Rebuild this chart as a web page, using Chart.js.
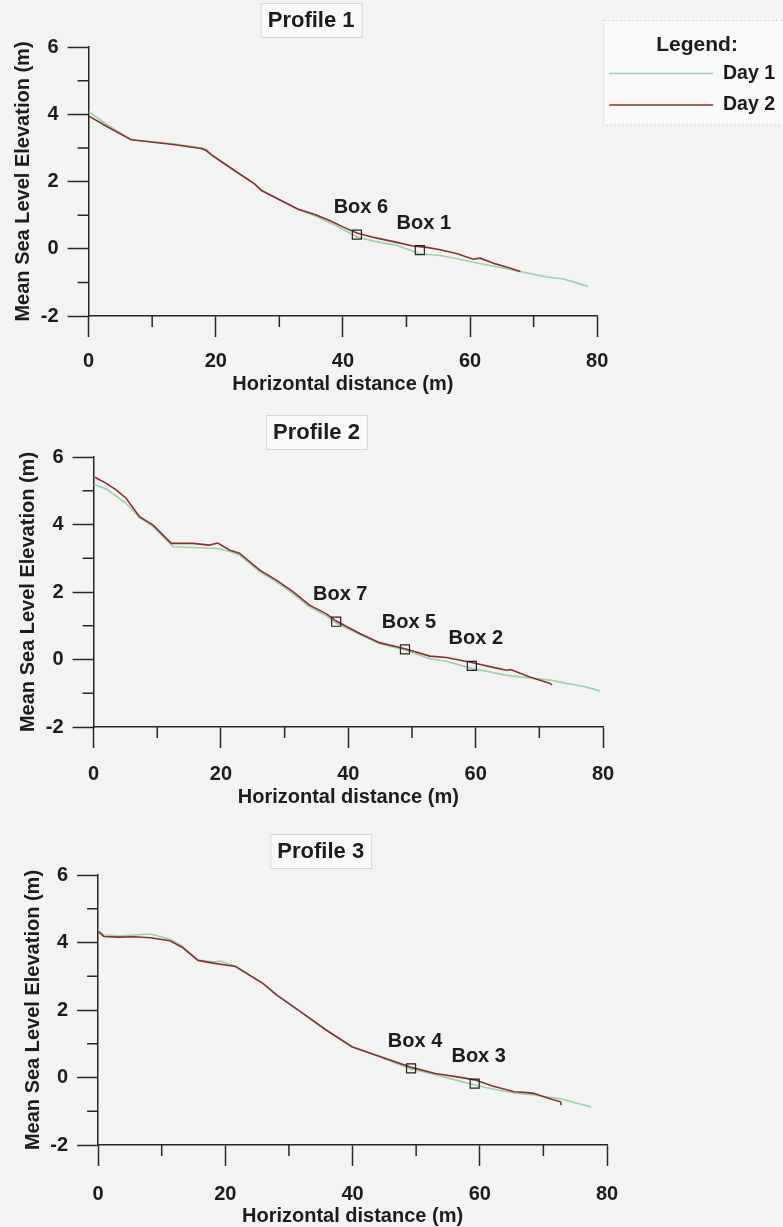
<!DOCTYPE html>
<html>
<head>
<meta charset="utf-8">
<script src="https://cdn.jsdelivr.net/npm/chart.js@4.4.1/dist/chart.umd.min.js"></script>
<style>
  html, body { margin: 0; padding: 0; background: #f3f3f3; }
  body { width: 783px; height: 1227px; position: relative; overflow: hidden; }
  canvas { position: absolute; left: 0; }
</style>
</head>
<body>
<canvas id="c1" width="783" height="400" style="top:0px"></canvas>
<canvas id="c2" width="783" height="411" style="top:400px"></canvas>
<canvas id="c3" width="783" height="416" style="top:811px"></canvas>
<script>
// ---------------- DATA ----------------
const profileTitles = ['Profile 1', 'Profile 2', 'Profile 3'];
const seriesNames = ['Day 1', 'Day 2'];
const legendTitle = 'Legend:';
const xAxisTitle = 'Horizontal distance (m)';
const yAxisTitle = 'Mean Sea Level Elevation (m)';
const xTicks = [0, 20, 40, 60, 80];
const yTicks = [-2, 0, 2, 4, 6];
const xMinorTicks = [10, 30, 50, 70];
const yMinorTicks = [-1, 1, 3, 5];

// Profile 1  [distance m, elevation m]
const p1Day1 = [[0,4.08],[3,3.68],[6.7,3.24],[13.3,3.12],[17.7,3.0],[18.5,2.96],[19.3,2.78],[23,2.32],[26.1,1.93],[27.2,1.74],[29.8,1.48],[32.9,1.17],[35.6,0.98],[39.2,0.66],[42.2,0.35],[45,0.22],[48.5,0.1],[52.1,-0.15],[55.3,-0.2],[58,-0.3],[60.5,-0.4],[63.7,-0.52],[66,-0.6],[67.9,-0.68],[70,-0.76],[72.1,-0.84],[74.7,-0.9],[76.5,-1.0],[78.6,-1.12]];
const p1Day2 = [[0,3.95],[3,3.62],[6.7,3.24],[13.3,3.1],[17.7,2.98],[18.5,2.92],[19.3,2.8],[23,2.32],[26.1,1.93],[27.2,1.73],[29.8,1.48],[32.9,1.18],[35.6,1.02],[38,0.83],[40,0.65],[42.2,0.47],[45,0.33],[48.5,0.19],[51,0.08],[53.2,0.04],[55.3,-0.03],[58,-0.15],[60.5,-0.31],[61.6,-0.28],[64,-0.45],[66,-0.56],[67.9,-0.68]];
const p1Boxes = [[42.2,0.42],[52.1,-0.04]];
const p1BoxNames = ['Box 6', 'Box 1'];

// Profile 2
const p2Day1 = [[0,5.19],[2,5.05],[5.1,4.63],[7.2,4.2],[9.3,3.95],[12.5,3.34],[15.6,3.32],[19.5,3.29],[21.4,3.2],[22.9,3.1],[26.1,2.6],[28.7,2.3],[31.3,1.95],[33.9,1.56],[36.5,1.3],[38.1,1.08],[41.8,0.74],[44.9,0.47],[48.9,0.28],[52.8,0.02],[55.4,-0.05],[59.4,-0.27],[62,-0.36],[64.9,-0.47],[68.5,-0.55],[71.7,-0.61],[74,-0.7],[77,-0.8],[79.5,-0.93]];
const p2Day2 = [[0.2,5.4],[2,5.22],[3.6,5.02],[5.1,4.78],[7.2,4.23],[9.3,3.99],[12.2,3.44],[15.6,3.44],[18.2,3.39],[19.5,3.45],[21.4,3.24],[22.9,3.15],[26.1,2.65],[28.7,2.35],[31.3,2.01],[33.9,1.61],[36.5,1.36],[38.1,1.14],[41.8,0.77],[44.9,0.5],[48.9,0.32],[52.8,0.1],[55.4,0.06],[59.4,-0.09],[62.9,-0.24],[64.9,-0.32],[65.5,-0.3],[68.5,-0.52],[71.7,-0.71],[72,-0.75]];
const p2Boxes = [[38.1,1.12],[48.9,0.30],[59.4,-0.19]];
const p2BoxNames = ['Box 7', 'Box 5', 'Box 2'];

// Profile 3
const p3Day1 = [[0,4.37],[0.9,4.22],[3.2,4.19],[5.7,4.22],[8.2,4.25],[11.3,4.1],[13.2,3.9],[15.7,3.48],[18.1,3.42],[19.3,3.45],[21.6,3.3],[25.9,2.79],[28.1,2.44],[31.8,1.95],[35.9,1.4],[39.9,0.91],[44.3,0.61],[49.2,0.25],[53,0.08],[56.7,-0.1],[59.2,-0.22],[62,-0.34],[65.4,-0.46],[68.5,-0.52],[72.7,-0.63],[75,-0.75],[77.5,-0.87]];
const p3Day2 = [[0,4.33],[0.9,4.18],[3.2,4.16],[5.7,4.17],[8.2,4.14],[11.3,4.05],[13.2,3.86],[15.7,3.47],[18.1,3.39],[21.6,3.29],[25.9,2.79],[28.1,2.44],[31.8,1.95],[35.9,1.4],[39.9,0.91],[44.3,0.62],[49.2,0.3],[53,0.12],[56.7,0.01],[59.2,-0.07],[62,-0.25],[65.4,-0.42],[67,-0.44],[68.5,-0.47],[70.5,-0.6],[72.7,-0.72],[72.8,-0.82]];
const p3Boxes = [[49.2,0.27],[59.2,-0.18]];
const p3BoxNames = ['Box 4', 'Box 3'];

// ---------------- STYLE ----------------
const FONT = '"Liberation Sans", Arial, Helvetica, sans-serif';
const TEXT = '#1c1c1c';
const AXIS = '#262626';
const GREEN = '#97d4aa';
const RED = '#8c2f2f';
const MAJOR_LEN = 21;
const MINOR_LEN = 11;

const toPoints = arr => arr.map(([x, y]) => ({ x, y }));

const minorTicksPlugin = {
  id: 'minorTicks',
  afterDraw(chart) {
    const { ctx, chartArea } = chart;
    const { x, y } = chart.scales;
    ctx.save();
    ctx.strokeStyle = AXIS;
    ctx.lineWidth = 1.5;
    ctx.beginPath();
    xMinorTicks.forEach(v => {
      const px = x.getPixelForValue(v);
      ctx.moveTo(px, chartArea.bottom);
      ctx.lineTo(px, chartArea.bottom + MINOR_LEN);
    });
    yMinorTicks.forEach(v => {
      const py = y.getPixelForValue(v);
      ctx.moveTo(chartArea.left, py);
      ctx.lineTo(chartArea.left - MINOR_LEN, py);
    });
    ctx.stroke();
    ctx.restore();
  }
};

const boxedTitlePlugin = {
  id: 'boxedTitle',
  beforeDraw(chart, args, opts) {
    if (!opts || !opts.text) return;
    const { ctx, chartArea } = chart;
    const cx = chart.scales.x.getPixelForValue(opts.atValue);
    const cy = chartArea.top + opts.offsetY;
    ctx.save();
    ctx.font = 'bold 22px ' + FONT;
    const w = ctx.measureText(opts.text).width;
    ctx.fillStyle = '#f9f9f9';
    ctx.fillRect(cx - w / 2 - 7, cy - 17, w + 14, 34);
    ctx.strokeStyle = '#d6d6d6';
    ctx.lineWidth = 1;
    ctx.strokeRect(cx - w / 2 - 7 + 0.5, cy - 17 + 0.5, w + 14, 34);
    ctx.fillStyle = TEXT;
    ctx.textAlign = 'center';
    ctx.textBaseline = 'middle';
    ctx.fillText(opts.text, cx, cy + 1);
    ctx.restore();
  }
};

// frame behind the legend, and the legend heading (drawn outside the legend's clip box)
const legendFramePlugin = {
  id: 'legendFrame',
  beforeDraw(chart) {
    const lg = chart.legend;
    if (!lg || !lg.options.display || !lg.legendHitBoxes || !lg.legendHitBoxes.length) return;
    const { ctx } = chart;
    const last = lg.legendHitBoxes[lg.legendHitBoxes.length - 1];
    const left = lg.left + 6;
    const top = lg.top - 27;
    const bottom = last.top + last.height + 10;
    ctx.save();
    ctx.fillStyle = '#f8f8f8';
    ctx.fillRect(left, top, chart.width - left + 10, bottom - top);
    ctx.strokeStyle = '#d2d2d2';
    ctx.lineWidth = 1;
    ctx.setLineDash([2, 2]);
    ctx.strokeRect(left + 0.5, top + 0.5, chart.width - left + 10, bottom - top);
    ctx.restore();
  },
  afterDraw(chart) {
    const lg = chart.legend;
    if (!lg || !lg.options.display) return;
    const { ctx } = chart;
    ctx.save();
    ctx.font = 'bold 21px ' + FONT;
    ctx.fillStyle = TEXT;
    ctx.textAlign = 'center';
    ctx.textBaseline = 'middle';
    ctx.fillText(lg.options.title.text, lg.left + lg.width / 2 + 6, lg.top - 2);
    ctx.restore();
  }
};

const boxLabelsPlugin = {
  id: 'boxLabels',
  afterDatasetsDraw(chart) {
    const { ctx } = chart;
    chart.data.datasets.forEach((ds, i) => {
      if (!ds.boxLabels) return;
      const meta = chart.getDatasetMeta(i);
      ctx.save();
      ctx.font = 'bold 20px ' + FONT;
      ctx.fillStyle = TEXT;
      ctx.textAlign = 'center';
      ctx.textBaseline = 'middle';
      meta.data.forEach((pt, j) => {
        ctx.fillText(ds.boxLabels[j], pt.x + 4, pt.y - 27);
      });
      ctx.restore();
    });
  }
};

function makeChart(id, cfg) {
  return new Chart(document.getElementById(id), {
    type: 'scatter',
    data: {
      datasets: [
        { label: seriesNames[0], data: toPoints(cfg.day1), showLine: true, borderColor: GREEN, borderWidth: 1.6,
          pointBorderColor: GREEN, pointBorderWidth: 1.6, pointRadius: 0, pointHoverRadius: 0, tension: 0, order: 2 },
        { label: seriesNames[1], data: toPoints(cfg.day2), showLine: true, borderColor: RED, borderWidth: 1.6,
          pointBorderColor: RED, pointBorderWidth: 1.6, pointRadius: 0, pointHoverRadius: 0, tension: 0, order: 1 },
        { label: 'Boxes', data: toPoints(cfg.boxes), boxLabels: cfg.boxNames, showLine: false,
          pointStyle: 'rect', pointRadius: 6.4, pointHoverRadius: 6.4, borderColor: '#222', backgroundColor: 'rgba(0,0,0,0)',
          borderWidth: 1.2, order: 0 }
      ]
    },
    options: {
      responsive: false,
      animation: false,
      events: [],
      layout: { padding: cfg.padding },
      plugins: {
        tooltip: { enabled: false },
        title: { display: false },
        boxedTitle: { text: cfg.title, atValue: 35, offsetY: cfg.titleOffset },
        legend: {
          display: cfg.legend,
          position: 'right',
          align: 'start',
          // reserves the heading's room; the heading itself is painted by legendFrame
          title: { display: true, text: legendTitle, color: 'rgba(0,0,0,0)', font: { family: FONT, size: 21, weight: 'bold' },
                   padding: { top: -12.5, bottom: -8 } },
          labels: {
            usePointStyle: true, pointStyle: 'line', pointStyleWidth: 104, boxHeight: 19,
            padding: 12, color: TEXT, font: { family: FONT, size: 19.5, weight: 'bold' },
            filter: item => item.datasetIndex < 2,
            sort: (a, b) => a.datasetIndex - b.datasetIndex
          }
        }
      },
      scales: {
        x: {
          type: 'linear', min: 0, max: 80,
          afterBuildTicks: s => { s.ticks = xTicks.map(v => ({ value: v })); },
          afterFit: s => { s.height = cfg.xHeight; },
          border: { display: true, color: AXIS, width: 1.5 },
          grid: { drawOnChartArea: false, drawTicks: true, tickLength: MAJOR_LEN, tickWidth: 1.5, tickColor: AXIS },
          ticks: { color: TEXT, font: { family: FONT, size: 20, weight: 'bold' }, padding: cfg.xTickPad, maxRotation: 0, autoSkip: false },
          title: { display: true, text: xAxisTitle, color: TEXT, font: { family: FONT, size: 20, weight: 'bold' },
                   padding: { top: 0, bottom: cfg.xTitlePad } }
        },
        y: {
          type: 'linear', min: -2, max: 6,
          afterBuildTicks: s => { s.ticks = yTicks.map(v => ({ value: v })); },
          afterFit: s => { s.width = 88.6; },
          border: { display: true, color: AXIS, width: 1.5 },
          grid: { drawOnChartArea: false, drawTicks: true, tickLength: MAJOR_LEN, tickWidth: 1.5, tickColor: AXIS },
          ticks: { color: TEXT, font: { family: FONT, size: 20, weight: 'bold' }, padding: 9, autoSkip: false },
          title: { display: true, text: yAxisTitle, color: TEXT, font: { family: FONT, size: 20, weight: 'bold' },
                   padding: { top: 11.6, bottom: 0 } }
        }
      }
    },
    plugins: [legendFramePlugin, boxedTitlePlugin, minorTicksPlugin, boxLabelsPlugin]
  });
}

makeChart('c1', { title: profileTitles[0], day1: p1Day1, day2: p1Day2, boxes: p1Boxes, boxNames: p1BoxNames,
  legend: true, padding: { top: 47, left: 0, right: -2, bottom: 0 }, xHeight: 84, titleOffset: -27, xTickPad: 12, xTitlePad: 4 });
makeChart('c2', { title: profileTitles[1], day1: p2Day1, day2: p2Day2, boxes: p2Boxes, boxNames: p2BoxNames,
  legend: false, padding: { top: 57, left: 5, right: 180, bottom: 0 }, xHeight: 84, titleOffset: -25, xTickPad: 14, xTitlePad: 2 });
makeChart('c3', { title: profileTitles[2], day1: p3Day1, day2: p3Day2, boxes: p3Boxes, boxNames: p3BoxNames,
  legend: false, padding: { top: 64, left: 9.5, right: 176, bottom: 0 }, xHeight: 82, titleOffset: -24, xTickPad: 16, xTitlePad: -1 });
</script>
</body>
</html>
